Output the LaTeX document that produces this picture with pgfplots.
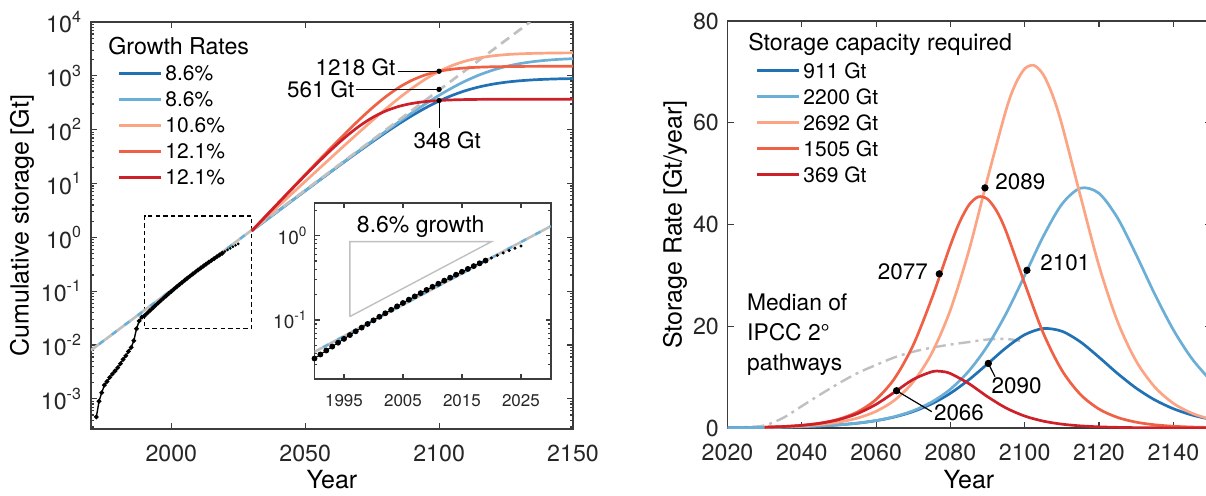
\documentclass[border=0pt]{standalone}
\usepackage{fontspec}
\setmainfont{TeX Gyre Heros}
\usepackage{pgfplots}
\pgfplotsset{compat=1.18}
\definecolor{cdb}{RGB}{33,113,181}
\definecolor{clb}{RGB}{107,174,214}
\definecolor{clo}{RGB}{252,165,133}
\definecolor{cor}{RGB}{239,96,68}
\definecolor{crd}{RGB}{205,32,40}
\definecolor{cgr}{RGB}{192,192,192}
\definecolor{cax}{RGB}{60,60,60}
\newcommand{\ftick}{\fontsize{11.6}{13.9}\selectfont}
\newcommand{\flab}{\fontsize{12.5}{15}\selectfont}
\newcommand{\fleg}{\fontsize{10.5}{12.6}\selectfont}
\newcommand{\ftit}{\fontsize{11.6}{13.9}\selectfont}
\newcommand{\fann}{\fontsize{11.2}{15}\selectfont}
\newcommand{\tp}[1]{10\raisebox{0.45em}{\fontsize{8}{9}\selectfont #1}}
\newcommand{\tpi}[1]{10\raisebox{0.45em}{\fontsize{6.8}{8}\selectfont #1}}
\pgfplotsset{
  myax/.style={
    scale only axis,
    /pgf/number format/1000 sep={},
    /pgf/number format/assume math mode=true,
    axis line style={cax, line width=0.9pt},
    every tick/.style={cax, line width=0.6pt},
    major tick length=3pt, minor tick length=1.6pt,
    tick label style={font=\ftick, text=black!85},
    label style={font=\flab},
    legend cell align=left,
    legend image code/.code={\draw[##1, line width=1.5pt] (0pt,0pt) -- (21pt,0pt);},
  },
}
\begin{document}
\begin{tikzpicture}
\path[use as bounding box] (0,0) rectangle (603pt,247.5pt);
% ---------------- left main axis
\begin{axis}[myax,
  at={(45.5pt,33pt)}, anchor=south west,
  width=241pt, height=203.5pt,
  xmin=1970, xmax=2150, ymode=log, ymin=2.75e-4, ymax=1e4,
  xtick={2000,2050,2100,2150},
  ytick={1e-3,1e-2,1e-1,1,10,100,1000,10000},
  yticklabels={\tp{-3},\tp{-2},\tp{-1},\tp{0},\tp{1},\tp{2},\tp{3},\tp{4}},
  minor ytick={3e-4,4e-4,5e-4,6e-4,7e-4,8e-4,9e-4,
    2e-3,3e-3,4e-3,5e-3,6e-3,7e-3,8e-3,9e-3,
    0.02,0.03,0.04,0.05,0.06,0.07,0.08,0.09,
    0.2,0.3,0.4,0.5,0.6,0.7,0.8,0.9,
    2,3,4,5,6,7,8,9,20,30,40,50,60,70,80,90,
    200,300,400,500,600,700,800,900,2000,3000,4000,5000,6000,7000,8000,9000},
  xticklabel style={yshift=-4.5pt},
  yticklabel style={xshift=-1.5pt},
  xlabel={Year}, ylabel={Cumulative storage [Gt]},
  xlabel style={at={(axis description cs:0.5,-0.1253)}, anchor=center},
  ylabel style={at={(axis description cs:-0.1432,0.5)}, anchor=center},
  legend style={at={(0.054,0.902)}, anchor=north west, draw=none, fill=none,
    font=\fleg, inner sep=0pt, row sep=2.2pt, column sep=0pt,
    nodes={inner sep=1.5pt, text height=7.6pt, text depth=0.2pt}},
]
% historical data
\addplot[black, line width=0.7pt, mark=*, mark size=0.8pt, forget plot] table {
1972 4.6e-4
1973 9.0e-4
1974 1.3e-3
1975 1.8e-3
1976 2.1e-3
1977 2.5e-3
1978 2.9e-3
1979 3.3e-3
1980 3.8e-3
1981 4.5e-3
1982 5.4e-3
1983 6.3e-3
1984 7.6e-3
1985 9.0e-3
1986 1.2e-2
1987 2.0e-2
1988 2.8e-2
1989 3.3e-2
1990 0.0350
1991 0.03906
1992 0.04355
1993 0.04846
1994 0.05389
1995 0.05984
1996 0.06639
1997 0.07354
1998 0.08135
1999 0.08989
2000 0.09920
2001 0.1093
2002 0.1203
2003 0.1323
2004 0.1453
2005 0.1593
2006 0.1744
2007 0.1907
2008 0.2084
2009 0.2274
2010 0.2477
2011 0.2695
2012 0.2930
2013 0.3181
2014 0.3448
2015 0.3733
2016 0.4037
2017 0.4360
2018 0.4705
2019 0.5068
};
\addplot[only marks, black, mark=*, mark size=0.45pt, forget plot] table {
2020 0.545
2021 0.585
2022 0.625
2023 0.668
2024 0.710
2025 0.755
};
% dashed inset rectangle
\addplot[black, line width=0.6pt, dash pattern=on 2.2pt off 1.6pt, forget plot] coordinates {(1990,0.02) (2030,0.02) (2030,2.5) (1990,2.5) (1990,0.02)};
% scenario curves
\addplot[cdb, line width=1.35pt, smooth] table {
2030 1.319
2035 2.027
2040 3.111
2045 4.775
2050 7.317
2055 11.20
2060 17.11
2065 26.04
2070 39.42
2075 59.22
2080 87.97
2085 128.56
2090 183.7
2095 254.8
2100 340.5
2105 435.9
2110 533.1
2115 623.5
2120 700.8
2125 762.2
2130 808.4
2135 841.5
2140 864.5
2145 880.2
2150 890.7
};
\addlegendentry{8.6\%}
\addplot[clb, line width=1.35pt, smooth] table {
2030 1.315
2035 2.020
2040 3.104
2045 4.768
2050 7.322
2055 11.24
2060 17.23
2065 26.37
2070 40.28
2075 61.31
2080 92.67
2085 139.6
2090 207.5
2095 303.6
2100 434.5
2105 603.9
2110 809.0
2115 1038.5
2120 1273.4
2125 1493.2
2130 1682.1
2135 1832.9
2140 1946.4
2145 2028.1
2150 2085.0
};
\addlegendentry{8.6\%}
% trend line
\addplot[cgr, line width=1.35pt, dash pattern=on 5pt off 3pt, forget plot] coordinates {(1970,0.0080) (2134,10000)};
\addplot[clb, line width=1.35pt, dash pattern=on 3pt off 5pt, dash phase=3pt, forget plot] coordinates {(1970,0.0080) (2030,1.36)};
\addplot[clo, line width=1.35pt, smooth] table {
2030 1.318
2035 2.2385
2040 3.801
2045 6.451
2050 10.94
2055 18.54
2060 31.34
2065 52.82
2070 88.52
2075 147.0
2080 240.6
2085 384.7
2090 594.2
2095 874.6
2100 1210.9
2105 1565.2
2110 1890.8
2115 2154.6
2120 2347.3
2125 2477.9
2130 2561.7
2135 2613.7
2140 2645.4
2145 2664.4
2150 2675.7
};
\addlegendentry{10.6\%}
\addplot[cor, line width=1.35pt, smooth] table {
2030 1.3145
2035 2.4055
2040 4.399
2045 8.037
2050 14.65
2055 26.62
2060 48.04
2065 85.69
2070 149.83
2075 253.4
2080 407.1
2085 608.6
2090 834.1
2095 1045.7
2100 1213.9
2105 1330.7
2110 1404.5
2115 1448.4
2120 1473.6
2125 1487.7
2130 1495.5
2135 1499.8
2140 1502.1
2145 1503.4
2150 1504.1
};
\addlegendentry{12.1\%}
\addplot[crd, line width=1.35pt, smooth] table {
2030 1.308
2035 2.389
2040 4.351
2045 7.890
2050 14.196
2055 25.19
2060 43.66
2065 72.79
2070 114.51
2075 166.70
2080 221.9
2085 270.9
2090 308.1
2095 333.1
2100 348.5
2105 357.5
2110 362.6
2115 365.5
2120 367.1
2125 367.9
2130 368.4
2135 368.7
2140 368.8
2145 368.9
2150 369.0
};
\addlegendentry{12.1\%}
% annotations
\addplot[black, line width=0.6pt, forget plot] coordinates {(2084.5,1218) (2100,1218)};
\addplot[black, line width=0.6pt, forget plot] coordinates {(2069,561) (2100,561)};
\addplot[black, line width=0.6pt, forget plot] coordinates {(2100,348) (2100,107)};
\addplot[only marks, black, mark=*, mark size=1.1pt, forget plot] coordinates {(2100,1218) (2100,561) (2100,348)};
\node[font=\fann, anchor=east, inner sep=0pt, yshift=2pt] at (axis cs:2083.8,1218) {1218 Gt};
\node[font=\fann, anchor=east, inner sep=0pt] at (axis cs:2068.5,561) {561 Gt};
\node[font=\fann, anchor=north, inner sep=0pt] at (axis cs:2103,92) {348 Gt};
\node[font=\ftit, anchor=west, inner sep=0pt] at (rel axis cs:0.0353,0.941) {Growth Rates};
\end{axis}
% ---------------- inset
\begin{axis}[myax,
  at={(157.25pt,58pt)}, anchor=south west,
  width=118.25pt, height=88pt,
  axis background/.style={fill=white},
  xmin=1990, xmax=2030.1, ymode=log, ymin=0.02, ymax=2.44,
  xtick={1995,2005,2015,2025},
  ytick={0.1,1}, yticklabels={\tpi{-1},\tpi{0}},
  minor ytick={0.03,0.04,0.05,0.06,0.07,0.08,0.09,0.2,0.3,0.4,0.5,0.6,0.7,0.8,0.9,2},
  major tick length=2.6pt, minor tick length=1.4pt,
  xticklabel style={font=\fontsize{8.5}{10}\selectfont, yshift=-4pt},
  yticklabel style={font=\fontsize{9.5}{11}\selectfont, xshift=-0.5pt},
  axis line style={cax, line width=0.7pt},
]
\addplot[cgr, line width=0.7pt] coordinates {(1996,0.11) (1996,0.85) (2020,0.85) (1996,0.11)};
\addplot[cgr, line width=1.3pt, dash pattern=on 5pt off 3pt] coordinates {(1990,0.042) (2030.1,1.30)};
\addplot[clb, line width=1.3pt, dash pattern=on 3pt off 5pt, dash phase=3pt] coordinates {(1990,0.042) (2030.1,1.30)};
\addplot[black, line width=0.5pt, mark=*, mark size=1.2pt] table {
1990 0.0350
1991 0.03906
1992 0.04355
1993 0.04846
1994 0.05389
1995 0.05984
1996 0.06639
1997 0.07354
1998 0.08135
1999 0.08989
2000 0.09920
2001 0.1093
2002 0.1203
2003 0.1323
2004 0.1453
2005 0.1593
2006 0.1744
2007 0.1907
2008 0.2084
2009 0.2274
2010 0.2477
2011 0.2695
2012 0.2930
2013 0.3181
2014 0.3448
2015 0.3733
2016 0.4037
2017 0.4360
2018 0.4705
2019 0.5068
};
\addplot[only marks, black, mark=*, mark size=0.55pt] table {
2020 0.545
2021 0.585
2022 0.625
2023 0.668
2024 0.710
2025 0.755
};
\node[font=\fontsize{11.5}{13}\selectfont, inner sep=0pt] at (axis cs:2008,1.28) {8.6\% growth};
\end{axis}
% ---------------- right axis
\begin{axis}[myax,
  at={(363.75pt,33.5pt)}, anchor=south west,
  width=241.5pt, height=203.5pt,
  xmin=2020, xmax=2150, ymin=0, ymax=80,
  xtick={2020,2040,2060,2080,2100,2120,2140},
  ytick={0,20,40,60,80},
  xticklabel style={yshift=-4.5pt},
  yticklabel style={xshift=-0.8pt},
  xlabel={Year}, ylabel={Storage Rate [Gt/year]},
  xlabel style={at={(axis description cs:0.5,-0.1278)}, anchor=center},
  ylabel style={at={(axis description cs:-0.1087,0.5)}, anchor=center},
  legend style={at={(0.057,0.905)}, anchor=north west, draw=none, fill=none,
    font=\fleg, inner sep=0pt, row sep=2.2pt, column sep=0pt,
    nodes={inner sep=1.5pt, text height=7.6pt, text depth=0.2pt}},
]
\addplot[cgr, line width=1.2pt, dash pattern=on 6pt off 2.5pt on 1.5pt off 2.5pt, smooth, forget plot] table {
2020 0.0
2025 0.2
2030 0.5
2035 2.0
2040 4.3
2045 6.6
2050 8.8
2055 10.8
2060 12.4
2065 13.9
2070 15.0
2075 15.8
2080 16.4
2085 16.9
2090 17.4
2095 17.5
2100 17.0
};
\addplot[cdb, line width=1.35pt, smooth] table {
2020 0.048
2025 0.074
2030 0.113
2035 0.174
2040 0.267
2045 0.409
2050 0.624
2055 0.952
2060 1.444
2065 2.175
2070 3.243
2075 4.762
2080 6.835
2085 9.497
2090 12.613
2095 15.784
2100 18.34
2105 19.55
2110 19.02
2115 16.92
2120 13.91
2125 10.705
2130 7.832
2135 5.521
2140 3.791
2145 2.557
2150 1.703
};
\addlegendentry{911 Gt}
\addplot[clb, line width=1.35pt, smooth] table {
2020 0.048
2025 0.074
2030 0.113
2035 0.174
2040 0.267
2045 0.409
2050 0.628
2055 0.961
2060 1.470
2065 2.241
2070 3.400
2075 5.126
2080 7.634
2085 11.243
2090 16.162
2095 22.507
2100 29.99
2105 37.68
2110 43.99
2115 47.15
2120 46.13
2125 41.26
2130 34.05
2135 26.30
2140 19.30
2145 13.63
2150 9.371
};
\addlegendentry{2200 Gt}
\addplot[clo, line width=1.35pt, smooth] table {
2030 0.140
2035 0.237
2040 0.402
2045 0.682
2050 1.155
2055 1.951
2060 3.283
2065 5.489
2070 9.074
2075 14.732
2080 23.22
2085 34.95
2090 49.08
2095 62.59
2097.5 67.60
2100 70.62
2102.5 71.27
2105 69.45
2107.5 65.41
2110 59.65
2115 45.59
2120 31.86
2125 20.89
2130 13.145
2135 8.054
2140 4.857
2145 2.900
2150 1.722
};
\addlegendentry{2692 Gt}
\addplot[cor, line width=1.35pt, smooth] table {
2030 0.159
2035 0.291
2040 0.531
2045 0.967
2050 1.756
2055 3.164
2060 5.627
2065 9.778
2070 16.325
2075 25.50
2080 35.93
2082.5 40.51
2085 43.86
2087.5 45.44
2090 44.99
2092.5 42.58
2095 38.61
2100 28.41
2105 18.645
2110 11.344
2115 6.586
2120 3.723
2125 2.072
2130 1.144
2135 0.628
2140 0.345
2145 0.188
2150 0.103
};
\addlegendentry{1505 Gt}
\addplot[crd, line width=1.35pt, smooth] table {
2030 0.158
2035 0.287
2040 0.520
2045 0.934
2050 1.652
2055 2.840
2060 4.657
2065 7.070
2070 9.556
2075 11.058
2077.5 11.129
2080 10.703
2085 8.712
2090 6.152
2095 3.925
2100 2.346
2105 1.349
2110 0.758
2115 0.420
2120 0.231
2125 0.127
2130 0.070
2135 0.038
2140 0.021
2145 0.011
2150 0.006
};
\addlegendentry{369 Gt}
% markers and leaders
\addplot[black, line width=0.6pt, forget plot] coordinates {(2090.2,12.7) (2092.0,10.1)};
\addplot[black, line width=0.6pt, forget plot] coordinates {(2065.5,7.33) (2075.0,3.2)};
\addplot[only marks, black, mark=*, mark size=1.6pt, forget plot] coordinates {(2077,30.3) (2089.3,47.2) (2100.6,31.0) (2090.2,12.7) (2065.5,7.33)};
\node[font=\fann, anchor=east, inner sep=0pt] at (axis cs:2074.0,30.7) {2077};
\node[font=\fann, anchor=west, inner sep=0pt] at (axis cs:2092.0,48.4) {2089};
\node[font=\fann, anchor=west, inner sep=0pt] at (axis cs:2104.1,32.4) {2101};
\node[font=\fann, inner sep=0pt] at (axis cs:2097.8,8.3) {2090};
\node[font=\fann, inner sep=0pt] at (axis cs:2082.3,3.0) {2066};
\node[font=\fontsize{11.4}{15}\selectfont, anchor=west, align=left, inner sep=0pt] at (axis cs:2025.2,18.3) {Median of\\IPCC 2°\\pathways};
\node[font=\ftit, anchor=west, inner sep=0pt] at (rel axis cs:0.0424,0.9435) {Storage capacity required};
\end{axis}
\end{tikzpicture}
\end{document}
